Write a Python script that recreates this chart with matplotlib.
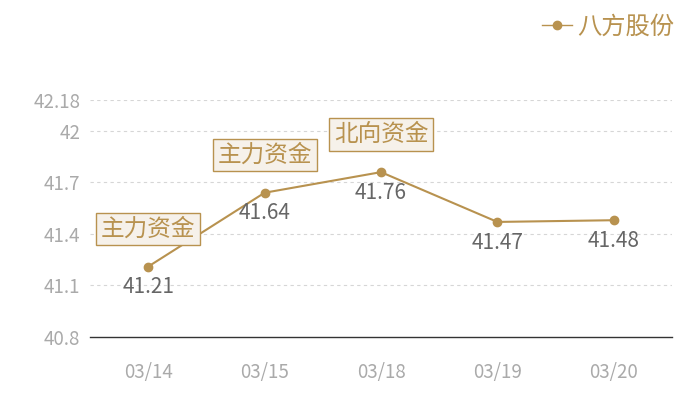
import matplotlib
matplotlib.use("Agg")
import matplotlib.pyplot as plt
from matplotlib.lines import Line2D

plt.rcParams['font.family'] = ['Noto Sans CJK SC', 'DejaVu Sans']

# data
dates = ["03/14", "03/15", "03/18", "03/19", "03/20"]
prices = [41.21, 41.64, 41.76, 41.47, 41.48]
tags = ["主力资金", "主力资金", "北向资金", "", ""]
yticks = [40.8, 41.1, 41.4, 41.7, 42, 42.18]
series_name = "八方股份"

gold = "#b8924f"

fig = plt.figure(figsize=(7, 4), dpi=100)
ax = fig.add_axes([90 / 700, 1 - 337 / 400, 582 / 700, 237 / 400])

x = list(range(len(dates)))
ax.plot(x, prices, color=gold, lw=1.5, marker="o", ms=6, zorder=3)

ax.set_xlim(-0.5, len(dates) - 0.5)
ax.set_ylim(40.8, 42.18)
ax.set_yticks(yticks)
ax.set_yticklabels([f"{v:g}" for v in yticks])
ax.set_xticks(x)
ax.set_xticklabels(dates)
ax.tick_params(axis="both", length=0, colors="#aaaaaa", labelsize=13.5)
ax.tick_params(axis="x", pad=18)
ax.tick_params(axis="y", pad=7)

for v in yticks[1:]:
    ax.axhline(v, color="#d6d6d6", lw=0.8, ls=(0, (3, 3)), zorder=1)

for s in ["top", "right", "left"]:
    ax.spines[s].set_visible(False)
ax.spines["bottom"].set_color("#333333")
ax.spines["bottom"].set_linewidth(1)

for xi, p, t in zip(x, prices, tags):
    ax.annotate(f"{p:g}", (xi, p), xytext=(0, -7), textcoords="offset points",
                ha="center", va="top", fontsize=15, color="#666666")
    if t:
        ax.annotate(t, (xi, p), xytext=(0, 27), textcoords="offset points",
                    ha="center", va="center", fontsize=17, color=gold,
                    bbox=dict(boxstyle="square,pad=0.2", fc="#f6f1ea",
                              ec=gold, lw=1), zorder=4)

handle = Line2D([], [], color=gold, lw=1, marker="o", ms=6)
fig.legend([handle], [series_name], loc="upper right",
           bbox_to_anchor=(0.995, 1.02), frameon=False, fontsize=17.5,
           labelcolor=gold, handlelength=1.2, handletextpad=0.25)

fig.savefig("out.png", dpi=100)
